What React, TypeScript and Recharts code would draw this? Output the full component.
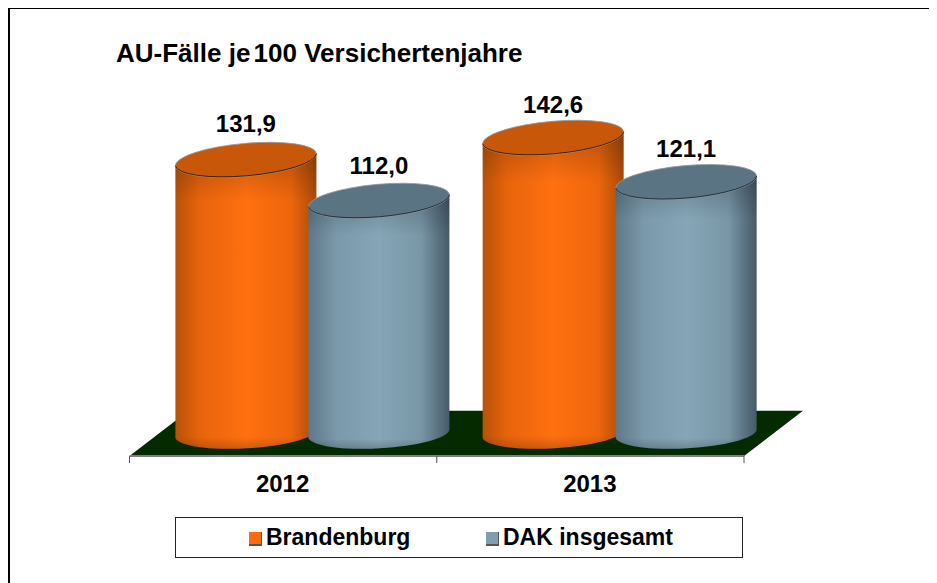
import { BarChart, Bar, XAxis, YAxis, LabelList, Legend, ReferenceArea } from 'recharts'

const years = ['2012', '2013']
const brandenburg = [131.9, 142.6]
const dakInsgesamt = [112.0, 121.1]

const data = years.map((year, i) => ({
  year,
  Brandenburg: brandenburg[i],
  'DAK insgesamt': dakInsgesamt[i],
}))

const FONT = '"Liberation Sans", Arial, sans-serif'
const DEPTH_X = 59
const BAR_SHIFT = 28.9
const RY = 16.5
const TILT = -5
const END_DY = 6

const deGerman = (v: number) => v.toFixed(1).replace('.', ',')

function Cylinder(props: any) {
  const { x, y, width, height, body, top, edge } = props
  const left = x + BAR_SHIFT
  const right = left + width
  const rx = width / 2 + 0.3
  const bottom = y + height
  const outline = `M ${left} ${y + END_DY} L ${left} ${bottom + 6.7} A ${rx} 15.5 -3.2 0 0 ${right} ${bottom - 1.3} L ${right} ${y - END_DY} Z`
  return (
    <g>
      <path d={outline} fill={body} />
      <path d={outline} fill="url(#bodyShade)" />
      <ellipse
        cx={left + width / 2}
        cy={y}
        rx={rx}
        ry={RY}
        transform={`rotate(${TILT} ${left + width / 2} ${y})`}
        fill={top}
        stroke="#9a9a9a"
        strokeWidth={0.8}
      />
      <path
        d={`M ${left} ${y + END_DY} A ${rx} ${RY} ${TILT} 0 0 ${right} ${y - END_DY}`}
        fill="none"
        stroke={edge}
        strokeWidth={1}
      />
    </g>
  )
}

function Floor(props: any) {
  const { x, y, width, height } = props
  return (
    <path
      d={`M ${x} ${y + height} L ${x + width} ${y + height} L ${x + width + DEPTH_X} ${y} L ${x + DEPTH_X} ${y} Z`}
      fill="#052a00"
    />
  )
}

function YearTick(props: any) {
  const { x, y, payload, index } = props
  const band = 307.25
  return (
    <g>
      <line x1={x - band / 2} x2={x - band / 2} y1={y} y2={y + 7} stroke="#555" />
      {index === years.length - 1 && (
        <line x1={x + band / 2} x2={x + band / 2} y1={y} y2={y + 7} stroke="#555" />
      )}
      <text x={x - 0.5} y={y + 36} textAnchor="middle" fontFamily={FONT} fontWeight="bold" fontSize={24} fill="#000">
        {payload.value}
      </text>
    </g>
  )
}

function ValueLabel(props: any) {
  const { x, y, width, value, lift } = props
  return (
    <text x={x + BAR_SHIFT + width / 2} y={y - lift} textAnchor="middle" fontFamily={FONT} fontWeight="bold" fontSize={24} fill="#000">
      {deGerman(value)}
    </text>
  )
}

function LegendBox(props: any) {
  const { payload } = props
  return (
    <div
      style={{
        boxSizing: 'border-box',
        width: 568,
        height: 41,
        border: '1px solid #222',
        background: '#fff',
        position: 'relative',
        fontFamily: FONT,
        fontWeight: 'bold',
        fontSize: 23,
        color: '#000',
      }}
    >
      {(payload || []).map((item: any, i: number) => (
        <div key={item.value} style={{ position: 'absolute', left: i === 0 ? 73 : 310, top: 6, lineHeight: '27px', whiteSpace: 'nowrap' }}>
          <span
            style={{
              display: 'inline-block',
              boxSizing: 'border-box',
              width: 13,
              height: 14,
              marginRight: 4,
              verticalAlign: -1,
              background: item.color,
              borderBottom: '2px solid #555',
              borderRight: '1px solid #555',
            }}
          />
          {item.value}
        </div>
      ))}
    </div>
  )
}

export default function App() {
  return (
    <div
      style={{
        position: 'relative',
        boxSizing: 'border-box',
        width: 929,
        height: 576,
        marginTop: -1,
        borderTop: '2px solid #000',
        borderLeft: '2px solid #000',
        overflow: 'hidden',
      }}
    >
      <div style={{ position: 'absolute', left: 106, top: 29, fontFamily: FONT, fontWeight: 'bold', fontSize: 26, lineHeight: '30px', color: '#000', whiteSpace: 'nowrap' }}>
        AU-Fälle je<span style={{ letterSpacing: -4 }}> </span>100 Versichertenjahre
      </div>
      <BarChart
        width={927}
        height={574}
        data={data}
        margin={{ top: 93, right: 193, bottom: 67, left: 119.5 }}
        barSize={141}
        barGap={-8}
      >
        <defs>
          <linearGradient id="orangeBody" x1="0" x2="1" y1="0" y2="0">
            <stop offset="0" stopColor="#b85208" />
            <stop offset="0.18" stopColor="#e8640c" />
            <stop offset="0.5" stopColor="#ff7010" />
            <stop offset="0.82" stopColor="#ee660c" />
            <stop offset="1" stopColor="#a84a08" />
          </linearGradient>
          <linearGradient id="blueBody" x1="0" x2="1" y1="0" y2="0">
            <stop offset="0" stopColor="#5f7888" />
            <stop offset="0.2" stopColor="#7a99aa" />
            <stop offset="0.5" stopColor="#86a6b7" />
            <stop offset="0.8" stopColor="#7896a6" />
            <stop offset="1" stopColor="#465a66" />
          </linearGradient>
          <linearGradient id="bodyShade" x1="0" x2="0" y1="0" y2="1">
            <stop offset="0" stopColor="#000" stopOpacity={0.22} />
            <stop offset="0.16" stopColor="#000" stopOpacity={0} />
            <stop offset="0.96" stopColor="#000" stopOpacity={0} />
            <stop offset="1" stopColor="#000" stopOpacity={0.18} />
          </linearGradient>
        </defs>
        <ReferenceArea y1={-12} y2={10} shape={Floor} ifOverflow="visible" />
        <XAxis
          dataKey="year"
          height={60}
          axisLine={{ stroke: '#808080', strokeWidth: 2 }}
          tickSize={0}
          tickMargin={0}
          tickLine={false}
          tick={YearTick}
          interval={0}
        />
        <YAxis hide domain={[-12, 160]} />
        <Bar
          dataKey="Brandenburg"
          fill="#ff6a0d"
          isAnimationActive={false}
          shape={(p: any) => <Cylinder {...p} body="url(#orangeBody)" top="#c9570a" edge="#40210a" />}
        >
          <LabelList dataKey="Brandenburg" content={(p: any) => <ValueLabel {...p} lift={p.index === 0 ? 28 : 25} />} />
        </Bar>
        <Bar
          dataKey="DAK insgesamt"
          fill="#7f9fb0"
          isAnimationActive={false}
          shape={(p: any) => <Cylinder {...p} body="url(#blueBody)" top="#5b7483" edge="#23303a" />}
        >
          <LabelList dataKey="DAK insgesamt" content={(p: any) => <ValueLabel {...p} lift={p.index === 0 ? 26.5 : 25} />} />
        </Bar>
        <Legend
          verticalAlign="middle"
          layout="horizontal"
          content={LegendBox}
          wrapperStyle={{ left: 165, top: 508, width: 568, height: 41 }}
        />
      </BarChart>
    </div>
  )
}
